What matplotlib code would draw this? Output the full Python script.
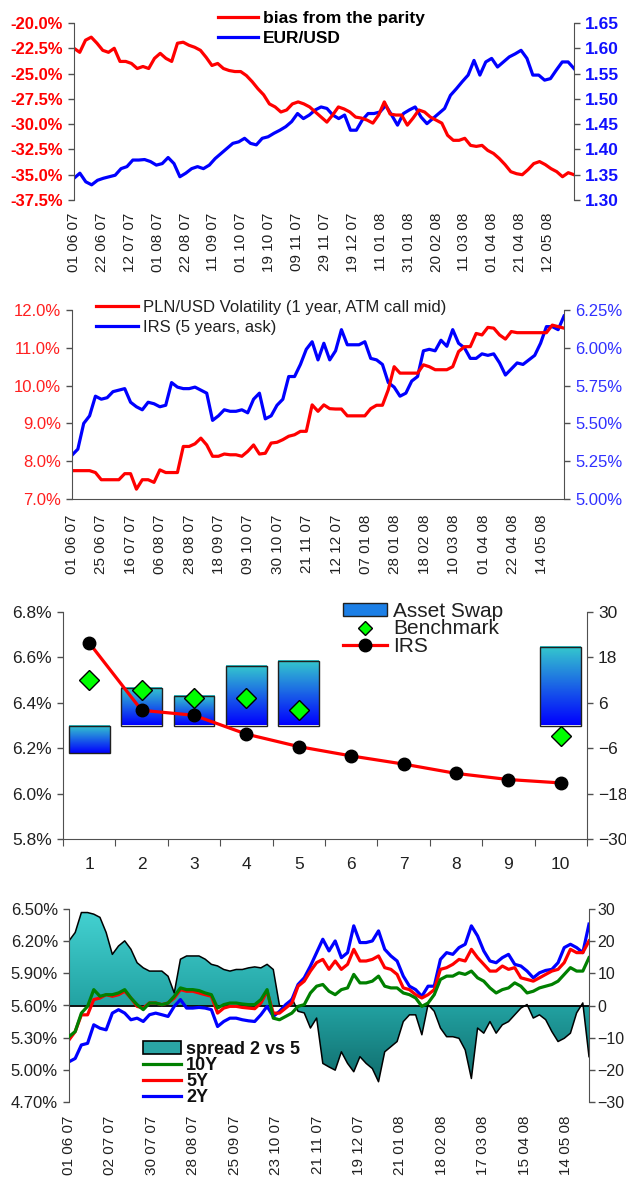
import numpy as np
import matplotlib
matplotlib.use('Agg')
import matplotlib.pyplot as plt
from matplotlib.colors import LinearSegmentedColormap
from matplotlib.patches import Patch, PathPatch
from matplotlib.lines import Line2D
from matplotlib.ticker import FuncFormatter

plt.rcParams['font.family'] = ['Liberation Sans', 'DejaVu Sans']

# ---- data ----
n_days = 251  # business days 01 06 07 .. end of May 08

# panel 1: bias from the parity (%) and EUR/USD
bias = [-22.5, -22.9, -21.7, -21.4, -22.0, -22.7, -22.9, -22.5, -23.8, -23.8,
        -24.0, -24.5, -24.3, -24.5, -23.5, -23.0, -23.5, -23.8, -22.0, -21.9,
        -22.2, -22.4, -22.7, -23.4, -24.2, -24.0, -24.5, -24.7, -24.8, -24.8,
        -25.2, -25.8, -26.5, -27.1, -28.0, -28.3, -28.8, -28.6, -28.0, -27.8,
        -28.0, -28.3, -28.8, -29.3, -29.8, -29.1, -28.3, -28.5, -28.8, -29.3,
        -29.4, -29.6, -29.9, -29.1, -27.8, -29.0, -29.1, -29.1, -30.1, -29.4,
        -28.6, -28.8, -29.3, -29.6, -29.9, -31.1, -31.6, -31.6, -31.4, -32.1,
        -32.2, -32.1, -32.6, -32.9, -33.4, -34.0, -34.7, -34.9, -35.0, -34.5,
        -33.9, -33.7, -34.0, -34.4, -34.7, -35.2, -34.8, -35.0]
eurusd = [1.343, 1.353, 1.336, 1.330, 1.339, 1.343, 1.346, 1.349, 1.362, 1.366,
          1.379, 1.379, 1.380, 1.376, 1.369, 1.372, 1.384, 1.372, 1.346, 1.353,
          1.362, 1.366, 1.362, 1.369, 1.382, 1.392, 1.402, 1.412, 1.415, 1.422,
          1.412, 1.409, 1.422, 1.425, 1.432, 1.438, 1.445, 1.455, 1.471, 1.461,
          1.468, 1.478, 1.484, 1.481, 1.468, 1.461, 1.468, 1.438, 1.438, 1.458,
          1.471, 1.471, 1.474, 1.487, 1.468, 1.448, 1.471, 1.478, 1.484, 1.464,
          1.451, 1.461, 1.471, 1.481, 1.507, 1.520, 1.534, 1.547, 1.576, 1.547,
          1.573, 1.580, 1.563, 1.573, 1.583, 1.589, 1.596, 1.580, 1.547, 1.547,
          1.537, 1.540, 1.557, 1.573, 1.573, 1.560]
ticks1 = ['01 06 07', '22 06 07', '12 07 07', '01 08 07', '22 08 07', '11 09 07',
          '01 10 07', '19 10 07', '09 11 07', '29 11 07', '19 12 07', '11 01 08',
          '31 01 08', '20 02 08', '11 03 08', '01 04 08', '21 04 08', '12 05 08']

# panel 2: PLN/USD volatility (%) and IRS 5Y (%)
vol = [7.75, 7.75, 7.75, 7.75, 7.70, 7.51, 7.51, 7.51, 7.51, 7.67,
       7.67, 7.26, 7.51, 7.51, 7.44, 7.77, 7.70, 7.70, 7.70, 8.39,
       8.39, 8.46, 8.61, 8.43, 8.13, 8.13, 8.19, 8.17, 8.17, 8.13,
       8.26, 8.43, 8.19, 8.21, 8.48, 8.50, 8.57, 8.66, 8.70, 8.79,
       8.79, 9.49, 9.32, 9.49, 9.39, 9.38, 9.38, 9.20, 9.20, 9.20,
       9.20, 9.39, 9.48, 9.48, 9.89, 10.50, 10.33, 10.33, 10.33, 10.33,
       10.55, 10.50, 10.42, 10.42, 10.42, 10.50, 10.90, 11.03, 11.03, 11.38,
       11.34, 11.54, 11.52, 11.34, 11.23, 11.43, 11.40, 11.40, 11.40, 11.40,
       11.40, 11.40, 11.60, 11.56, 11.52]
irs5 = [5.29, 5.33, 5.50, 5.55, 5.68, 5.66, 5.67, 5.71, 5.72, 5.73,
        5.64, 5.61, 5.59, 5.64, 5.63, 5.61, 5.62, 5.77, 5.74, 5.73,
        5.73, 5.74, 5.72, 5.70, 5.52, 5.55, 5.59, 5.58, 5.58, 5.59,
        5.57, 5.66, 5.70, 5.53, 5.55, 5.62, 5.66, 5.81, 5.81, 5.89,
        5.99, 6.04, 5.92, 6.03, 5.92, 5.98, 6.12, 6.02, 6.02, 6.02,
        6.04, 5.93, 5.92, 5.89, 5.77, 5.74, 5.68, 5.70, 5.78, 5.81,
        5.98, 5.99, 5.98, 6.05, 6.01, 6.12, 6.03, 6.00, 5.93, 5.93,
        5.96, 5.95, 5.96, 5.90, 5.82, 5.86, 5.90, 5.89, 5.92, 5.95,
        6.03, 6.14, 6.14, 6.12, 6.21]
ticks2 = ['01 06 07', '25 06 07', '16 07 07', '06 08 07', '28 08 07', '18 09 07',
          '09 10 07', '30 10 07', '21 11 07', '12 12 07', '07 01 08', '28 01 08',
          '18 02 08', '10 03 08', '01 04 08', '22 04 08', '14 05 08']

# panel 3: curve by maturity
maturity = [1, 2, 3, 4, 5, 6, 7, 8, 9, 10]
asset_swap = [-7.2, 10.0, 7.8, 15.6, 17.0, 0, 0, 0, 0, 20.7]
irs_curve = [6.664, 6.367, 6.345, 6.262, 6.207, 6.166, 6.130, 6.089, 6.062, 6.047]
bench_mat = [1, 2, 3, 4, 5, 10]
benchmark = [6.499, 6.456, 6.419, 6.419, 6.370, 6.255]

# panel 4: IRS 2Y/5Y/10Y (%) and spread 2 vs 5 (bp)
spread = [20.1, 22.7, 28.9, 28.9, 28.4, 27.4, 22.7, 15.9, 18.5, 20.1,
          17.5, 13.3, 11.7, 10.7, 10.7, 10.7, 9.1, 3.9, 14.4, 15.4,
          15.4, 15.4, 14.4, 12.8, 12.3, 11.2, 10.7, 11.2, 11.2, 11.7,
          12.0, 11.7, 12.8, 11.2, 0.0, -0.8, 2.3, -1.8, -2.3, -7.0,
          -3.9, -18.0, -19.1, -20.1, -14.4, -18.0, -20.6, -15.9, -18.0, -19.6,
          -23.7, -14.4, -12.8, -11.2, -5.0, -2.9, -2.9, -9.1, 0.3, -1.8,
          -7.0, -9.7, -9.7, -10.2, -13.8, -22.7, -7.0, -8.6, -5.0, -8.6,
          -6.0, -5.0, -2.9, -0.8, 0.3, -3.9, -2.9, -4.4, -8.1, -11.2,
          -10.2, -8.6, -2.3, 0.8, -15.9]
irs2y = [5.075, 5.106, 5.232, 5.247, 5.420, 5.388, 5.373, 5.529, 5.561, 5.529,
         5.467, 5.482, 5.451, 5.514, 5.529, 5.514, 5.498, 5.592, 5.655, 5.576,
         5.576, 5.582, 5.576, 5.561, 5.404, 5.451, 5.482, 5.482, 5.467, 5.457,
         5.451, 5.514, 5.592, 5.498, 5.545, 5.608, 5.655, 5.796, 5.858, 5.968,
         6.093, 6.218, 6.109, 6.202, 6.046, 6.093, 6.343, 6.187, 6.187, 6.202,
         6.296, 6.124, 6.062, 6.015, 5.874, 5.780, 5.748, 5.686, 5.780, 5.780,
         6.030, 6.093, 6.077, 6.140, 6.171, 6.343, 6.249, 6.109, 6.015, 5.999,
         6.046, 6.077, 5.984, 5.968, 5.921, 5.858, 5.905, 5.927, 5.937, 5.999,
         6.140, 6.171, 6.140, 6.093, 6.359]
irs5y = [5.279, 5.357, 5.513, 5.513, 5.655, 5.670, 5.701, 5.686, 5.701, 5.733,
         5.670, 5.592, 5.576, 5.623, 5.623, 5.608, 5.623, 5.670, 5.748, 5.733,
         5.733, 5.717, 5.701, 5.686, 5.529, 5.576, 5.592, 5.592, 5.582, 5.576,
         5.570, 5.623, 5.733, 5.529, 5.529, 5.576, 5.623, 5.780, 5.827, 5.921,
         6.000, 6.030, 5.937, 6.015, 5.937, 5.984, 6.124, 6.015, 6.015, 6.030,
         6.062, 5.953, 5.937, 5.890, 5.764, 5.748, 5.701, 5.670, 5.701, 5.748,
         5.937, 5.953, 5.984, 6.030, 6.015, 6.124, 6.046, 5.984, 5.921, 5.921,
         5.968, 5.937, 5.953, 5.858, 5.843, 5.827, 5.858, 5.890, 5.921, 5.937,
         6.000, 6.124, 6.093, 6.093, 6.202]
irs10y = [5.310, 5.357, 5.529, 5.592, 5.748, 5.686, 5.701, 5.701, 5.717, 5.748,
          5.670, 5.608, 5.561, 5.623, 5.623, 5.608, 5.623, 5.686, 5.764, 5.748,
          5.748, 5.739, 5.717, 5.701, 5.576, 5.608, 5.623, 5.623, 5.614, 5.608,
          5.608, 5.655, 5.748, 5.482, 5.467, 5.498, 5.529, 5.592, 5.608, 5.717,
          5.780, 5.796, 5.733, 5.701, 5.748, 5.764, 5.890, 5.811, 5.811, 5.827,
          5.874, 5.780, 5.764, 5.764, 5.717, 5.701, 5.670, 5.592, 5.623, 5.701,
          5.843, 5.874, 5.874, 5.905, 5.890, 5.921, 5.858, 5.827, 5.764, 5.717,
          5.748, 5.764, 5.811, 5.780, 5.717, 5.733, 5.764, 5.780, 5.796, 5.827,
          5.890, 5.953, 5.921, 5.921, 6.046]
ticks4 = ['01 06 07', '02 07 07', '30 07 07', '28 08 07', '25 09 07', '23 10 07',
          '21 11 07', '19 12 07', '21 01 08', '18 02 08', '17 03 08', '15 04 08',
          '14 05 08']

# ---- layout helpers ----
W, H = 626, 1178
fig = plt.figure(figsize=(W / 100, H / 100), dpi=100)
SP = '#505050'


def box(l, t, r, b):
    return [l / W, 1 - b / H, (r - l) / W, (b - t) / H]


def xs(vals):
    return np.linspace(0, n_days, len(vals))


def style_pair(ax, axr, bottom=False):
    for s in ['top', 'right']:
        ax.spines[s].set_visible(False)
    for s in ['top', 'left', 'bottom']:
        axr.spines[s].set_visible(False)
    ax.spines['bottom'].set_visible(bottom)
    ax.spines['left'].set_color(SP)
    axr.spines['right'].set_color(SP)
    ax.spines['bottom'].set_color(SP)
    ax.tick_params(axis='y', direction='out', length=4, width=1, color=SP, pad=4)
    axr.tick_params(axis='y', direction='out', length=4, width=1, color=SP, pad=4)
    ax.set_zorder(axr.get_zorder() + 1)
    ax.patch.set_visible(False)


leg_kw = dict(loc='upper left', frameon=False, borderpad=0, borderaxespad=0,
              handletextpad=0.3)

# ---- panel 1 ----
ax1 = fig.add_axes(box(74, 23, 574, 200))
ax1r = ax1.twinx()
style_pair(ax1, ax1r)
l_bias, = ax1.plot(xs(bias), bias, color='#ff0000', lw=2.3)
l_eur, = ax1r.plot(xs(eurusd), eurusd, color='#0000ff', lw=2.3)
ax1.set_xlim(0, n_days)
ax1.set_ylim(-37.5, -20)
ax1.set_yticks(np.arange(-37.5, -19.9, 2.5))
ax1.yaxis.set_major_formatter(FuncFormatter(lambda v, p: '%.1f%%' % v))
ax1r.set_ylim(1.30, 1.65)
ax1r.set_yticks(np.arange(1.30, 1.651, 0.05))
ax1r.yaxis.set_major_formatter(FuncFormatter(lambda v, p: '%.2f' % v))
ax1.set_xticks(np.arange(len(ticks1)) * 14)
ax1.set_xticklabels(ticks1, rotation=90, fontsize=11, color='#202020')
ax1.tick_params(axis='x', length=0, pad=9)
for t in ax1.get_yticklabels():
    t.set_color('#ff0000'); t.set_fontweight('bold'); t.set_fontsize(12)
for t in ax1r.get_yticklabels():
    t.set_color('#1010ff'); t.set_fontweight('bold'); t.set_fontsize(12.5)
fig.legend([l_bias, l_eur], ['bias from the parity', 'EUR/USD'],
           bbox_to_anchor=(218 / W, 1 - 11 / H), handlelength=2.3,
           labelspacing=0.27, prop={'size': 12.5, 'weight': 'bold'}, **leg_kw)

# ---- panel 2 ----
ax2 = fig.add_axes(box(72, 310, 564, 499))
ax2r = ax2.twinx()
style_pair(ax2, ax2r, bottom=True)
l_vol, = ax2.plot(xs(vol), vol, color='#ff0000', lw=2.3)
l_irs, = ax2r.plot(xs(irs5), irs5, color='#0000ff', lw=2.3)
ax2.set_xlim(0, n_days)
ax2.set_ylim(7, 12)
ax2.set_yticks(np.arange(7, 12.1, 1))
ax2.yaxis.set_major_formatter(FuncFormatter(lambda v, p: '%.1f%%' % v))
ax2r.set_ylim(5.0, 6.25)
ax2r.set_yticks(np.arange(5.0, 6.26, 0.25))
ax2r.yaxis.set_major_formatter(FuncFormatter(lambda v, p: '%.2f%%' % v))
ax2.set_xticks(np.arange(len(ticks2)) * 15)
ax2.set_xticklabels(ticks2, rotation=90, fontsize=11, color='#202020')
ax2.tick_params(axis='x', length=0, pad=11)
for t in ax2.get_yticklabels():
    t.set_color('#ff2020'); t.set_fontsize(12)
for t in ax2r.get_yticklabels():
    t.set_color('#3030ff'); t.set_fontsize(12)
fig.legend([l_vol, l_irs], ['PLN/USD Volatility (1 year, ATM call mid)', 'IRS (5 years, ask)'],
           bbox_to_anchor=(96 / W, 1 - 300 / H), handlelength=2.5,
           labelspacing=0.29, prop={'size': 12}, labelcolor='#202020', **leg_kw)

# ---- panel 3 ----
ax3 = fig.add_axes(box(63, 612, 587, 839))
ax3r = ax3.twinx()
style_pair(ax3, ax3r, bottom=True)
bar_cmap = LinearSegmentedColormap.from_list('bar', ['#0000ff', '#35c9cd'])
grad = np.linspace(0, 1, 128).reshape(-1, 1)
bars = ax3r.bar(maturity, asset_swap, width=0.78, facecolor='none',
                edgecolor='#202020', lw=1, zorder=3)
for b in bars:
    if b.get_height() == 0:
        b.set_visible(False)
        continue
    x0 = b.get_x()
    y0, y1 = sorted([b.get_y(), b.get_y() + b.get_height()])
    ax3r.imshow(grad, extent=(x0, x0 + b.get_width(), y0, y1), origin='lower',
                cmap=bar_cmap, aspect='auto', zorder=2)
ax3r.set_ylim(-30, 30)
ax3r.set_yticks(np.arange(-30, 31, 12))
l_curve, = ax3.plot(maturity, irs_curve, color='#ff0000', lw=2.3, marker='o',
                    markersize=9, markerfacecolor='black', markeredgecolor='black', zorder=4)
ax3.plot(bench_mat, benchmark, linestyle='none', marker='D', markersize=10,
         markerfacecolor='#00ff00', markeredgecolor='black', markeredgewidth=1, zorder=5)
ax3.set_xlim(0.5, 10.5)
ax3r.set_xlim(0.5, 10.5)
ax3.set_ylim(5.8, 6.8)
ax3.set_yticks(np.arange(5.8, 6.81, 0.2))
ax3.yaxis.set_major_formatter(FuncFormatter(lambda v, p: '%.1f%%' % v))
ax3.set_xticks(np.arange(0.5, 10.6, 1))
ax3.set_xticklabels([])
ax3.set_xticks(maturity, minor=True)
ax3.set_xticklabels([str(m) for m in maturity], minor=True, fontsize=12.5, color='#202020')
ax3.tick_params(axis='x', which='major', direction='out', length=5, color=SP)
ax3.tick_params(axis='x', which='minor', length=0, pad=13)
for t in ax3.get_yticklabels() + ax3r.get_yticklabels():
    t.set_fontsize(12.5); t.set_color('#202020')
as_handle = Patch(facecolor='#1c7fe6', edgecolor='#202020', lw=1)
bench_handle = Line2D([], [], linestyle='none', marker='D', markersize=7.5,
                      markerfacecolor='#00ff00', markeredgecolor='black', markeredgewidth=1)
ax3.legend([as_handle, bench_handle, l_curve], ['Asset Swap', 'Benchmark', 'IRS'],
           bbox_to_anchor=(343 / W, 1 - 602 / H), bbox_transform=fig.transFigure,
           handlelength=2.1, handleheight=0.55, labelspacing=-0.08, prop={'size': 15},
           labelcolor='#202020', **leg_kw)

# ---- panel 4 ----
ax4 = fig.add_axes(box(69, 909, 589, 1102))
ax4r = ax4.twinx()
style_pair(ax4, ax4r)
x4 = xs(spread)
fill = ax4r.fill_between(x4, 0, spread, facecolor='none', edgecolor='none')
spread_cmap = LinearSegmentedColormap.from_list(
    'spread', [(0, '#0c5f5f'), (0.5, '#22a2a2'), (1, '#44d2d2')])
im = ax4r.imshow(grad, extent=(0, n_days, -30, 30), origin='lower',
                 cmap=spread_cmap, aspect='auto', zorder=1)
im.set_clip_path(PathPatch(fill.get_paths()[0], transform=ax4r.transData))
ax4r.plot(x4, spread, color='black', lw=1.1, zorder=2)
ax4r.axhline(0, color='black', lw=1.3, zorder=2)
ax4r.set_xlim(0, n_days)
ax4r.set_ylim(-30, 30)
ax4r.set_yticks(np.arange(-30, 31, 10))
ax4r.tick_params(axis='y', pad=2)
l10, = ax4.plot(xs(irs10y), irs10y, color='#008000', lw=2.3, zorder=3)
l5, = ax4.plot(xs(irs5y), irs5y, color='#ff0000', lw=2.3, zorder=2)
l2, = ax4.plot(xs(irs2y), irs2y, color='#0000ff', lw=2.3, zorder=1)
ax4.set_xlim(0, n_days)
ax4.set_ylim(4.70, 6.50)
ax4.set_yticks(np.arange(4.70, 6.51, 0.30))
ax4.yaxis.set_major_formatter(FuncFormatter(lambda v, p: '%.2f%%' % v))
ax4.set_xticks(np.arange(len(ticks4)) * 20)
ax4.set_xticklabels(ticks4, rotation=90, fontsize=11, color='#202020')
ax4.tick_params(axis='x', length=0, pad=10)
for t in ax4.get_yticklabels():
    t.set_fontsize(12); t.set_color('#202020')
for t in ax4r.get_yticklabels():
    t.set_fontsize(11.5); t.set_color('#202020')
sp_handle = Patch(facecolor='#2aa5a5', edgecolor='black', lw=1.2)
ax4.legend([sp_handle, l10, l5, l2], ['spread 2 vs 5', '10Y', '5Y', '2Y'],
           bbox_to_anchor=(143 / W, 1 - 1041 / H), bbox_transform=fig.transFigure,
           handlelength=2.1, labelspacing=-0.05, prop={'size': 13, 'weight': 'bold'},
           labelcolor='#101010', **leg_kw)

fig.savefig('out.png', dpi=100)
